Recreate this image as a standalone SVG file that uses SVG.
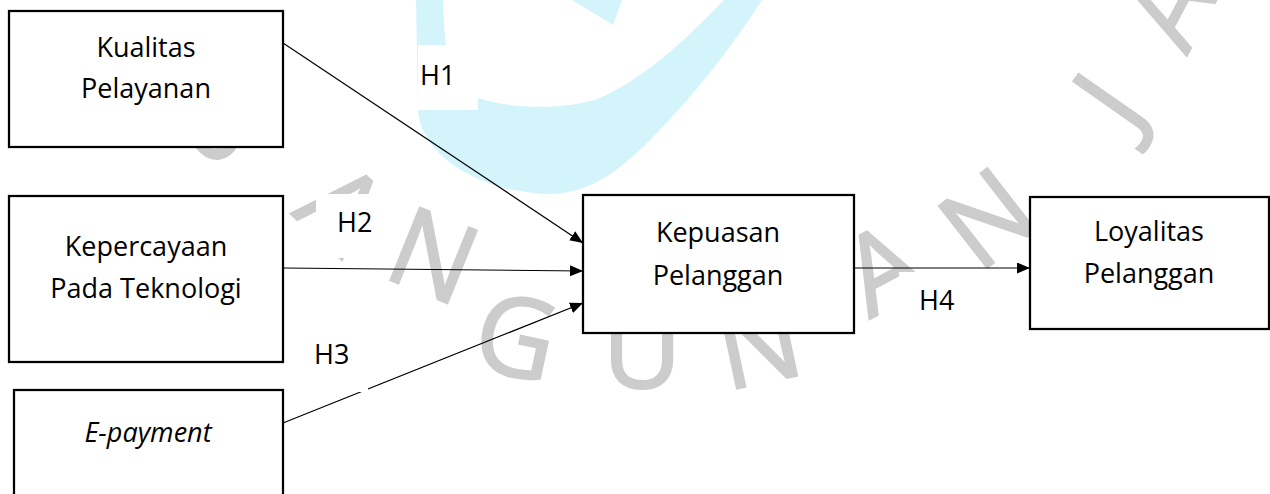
<svg xmlns="http://www.w3.org/2000/svg" width="1270" height="494" viewBox="0 0 1270 494">
  <defs>
    <style>
      .node rect { fill: #ffffff; stroke: #000000; stroke-width: 2.25; }
      .node text { font-family: "Open Sans", "Liberation Sans", sans-serif; font-size: 27px; fill: #000000; text-anchor: middle; }
      .edge { fill: none; stroke: #000000; stroke-width: 1.2; marker-end: url(#arrow); }
      .label rect { fill: #ffffff; stroke: none; }
      .label text { font-family: "Open Sans", "Liberation Sans", sans-serif; font-size: 27px; fill: #000000; }
      .wm { font-family: "Open Sans", "Liberation Sans", sans-serif; font-size: 110px; fill: #cccccc; stroke: #cccccc; stroke-width: 2; text-anchor: middle; dominant-baseline: central; }
    </style>
    <marker id="arrow" markerUnits="userSpaceOnUse" markerWidth="14" markerHeight="12" refX="13" refY="5.5" orient="auto">
      <path d="M0,0 L13,5.5 L0,11 Z" fill="#000000"/>
    </marker>
  </defs>

  <rect width="1270" height="494" fill="#ffffff"/>

  <!-- background watermark -->
  <g id="watermark">
    <path fill="#d4f4fc" d="M416,0 L418,110 C420,150 470,190 545,194 C590,195 620,170 650,140 C690,100 730,50 762,0 L724,0 C690,35 650,75 600,98 C560,112 500,108 470,95 C450,85 445,60 443,0 Z"/>
    <path fill="#d4f4fc" d="M572,0 L622,0 L613,25 Z"/>
    <text class="wm" transform="translate(228,118) rotate(52)">B</text>
    <text class="wm" transform="translate(345,205) rotate(42)">A</text>
    <text class="wm" transform="translate(435,252) rotate(22)">N</text>
    <text class="wm" transform="translate(517,333) rotate(12)">G</text>
    <text class="wm" transform="translate(642,345)">U</text>
    <text class="wm" transform="translate(758,340) rotate(-12)">N</text>
    <text class="wm" transform="translate(880,265) rotate(-28)">A</text>
    <text class="wm" transform="translate(985,215) rotate(-38)">N</text>
    <text class="wm" transform="translate(1105,98) rotate(-55)">J</text>
    <text class="wm" transform="translate(1165,5) rotate(-62)">A</text>
  </g>

  <!-- connectors -->
  <g id="connectors">
    <line class="edge" x1="283" y1="43" x2="583" y2="243"/>
    <line class="edge" x1="283" y1="268" x2="583" y2="271"/>
    <line class="edge" x1="283" y1="423" x2="583" y2="303"/>
    <line class="edge" x1="854" y1="268" x2="1030" y2="268"/>
  </g>

  <!-- hypothesis labels on white text boxes -->
  <g id="labels">
    <g class="label" id="label-h1"><rect x="418" y="45" width="60" height="65"/><text x="420" y="85">H1</text></g>
    <g class="label" id="label-h2"><rect x="316" y="194" width="64" height="64"/><text x="337" y="232">H2</text></g>
    <g class="label" id="label-h3"><rect x="300" y="328" width="68" height="64"/><text x="314" y="364">H3</text></g>
    <g class="label" id="label-h4"><rect x="899" y="272" width="66" height="64"/><text x="919" y="310">H4</text></g>
  </g>

  <!-- nodes -->
  <g class="node" id="kualitas-pelayanan">
    <rect x="9" y="11" width="274" height="136"/>
    <text x="146" y="57">Kualitas</text>
    <text x="146" y="98">Pelayanan</text>
  </g>
  <g class="node" id="kepercayaan-teknologi">
    <rect x="9" y="196" width="274" height="166"/>
    <text x="146" y="256">Kepercayaan</text>
    <text x="146" y="298">Pada Teknologi</text>
  </g>
  <g class="node" id="e-payment">
    <rect x="14" y="390" width="269" height="120"/>
    <text x="148" y="442" font-style="italic">E-payment</text>
  </g>
  <g class="node" id="kepuasan-pelanggan">
    <rect x="583" y="195" width="271" height="138"/>
    <text x="718" y="242">Kepuasan</text>
    <text x="718" y="285">Pelanggan</text>
  </g>
  <g class="node" id="loyalitas-pelanggan">
    <rect x="1030" y="197" width="239" height="132"/>
    <text x="1149" y="241">Loyalitas</text>
    <text x="1149" y="283">Pelanggan</text>
  </g>
</svg>
